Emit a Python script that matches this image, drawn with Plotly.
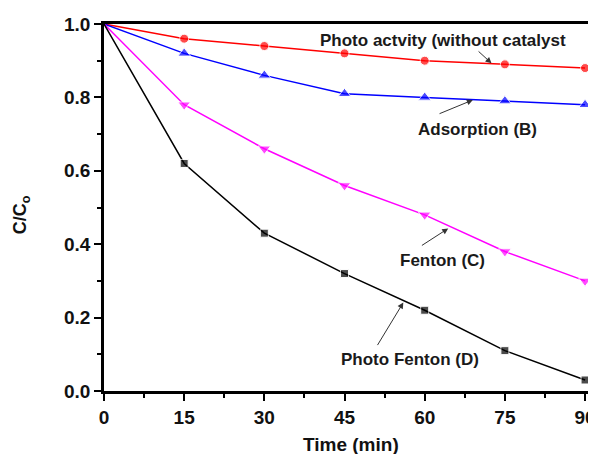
import plotly.graph_objects as go

time_min = [0, 15, 30, 45, 60, 75, 90]
photo_activity = [1.0, 0.96, 0.94, 0.92, 0.90, 0.89, 0.88]
adsorption = [1.0, 0.92, 0.86, 0.81, 0.80, 0.79, 0.78]
fenton = [1.0, 0.78, 0.66, 0.56, 0.48, 0.38, 0.30]
photo_fenton = [1.0, 0.62, 0.43, 0.32, 0.22, 0.11, 0.03]

x_ticks = [0, 15, 30, 45, 60, 75, 90]
y_ticks = [0.0, 0.2, 0.4, 0.6, 0.8, 1.0]
y_tick_labels = ["0.0", "0.2", "0.4", "0.6", "0.8", "1.0"]

FONT = "Liberation Sans, Arial, sans-serif"

fig = go.Figure()

series = [
    (photo_activity, "#ff0000", "circle", 9),
    (adsorption, "#0000ff", "triangle-up", 11),
    (fenton, "#ff00ff", "triangle-down", 11),
    (photo_fenton, "#000000", "square", 8),
]
for vals, color, sym, size in series:
    sizes = [0] + [size] * (len(vals) - 1)
    fig.add_trace(go.Scatter(
        x=time_min, y=vals, mode="lines+markers",
        line=dict(color=color, width=1.5),
        marker=dict(symbol=sym, size=sizes, color=color),
        cliponaxis=False, showlegend=False,
    ))

labels = [
    # text, text x, text y, arrow tail x, tail y, head x, head y
    ("Photo actvity (without catalyst", 63.4, 0.954, 69.8, 0.929, 72.5, 0.893),
    ("Adsorption (B)", 69.8, 0.713, 62.5, 0.754, 69.0, 0.793),
    ("Fenton (C)", 63.3, 0.356, 59.2, 0.394, 64.4, 0.443),
    ("Photo Fenton (D)", 57.3, 0.086, 51.0, 0.121, 56.0, 0.241),
]
for text, tx, ty, ax, ay, hx, hy in labels:
    fig.add_annotation(x=tx, y=ty, text="<b>%s</b>" % text, showarrow=False,
                       font=dict(family=FONT, size=17, color="#1a1a1a"),
                       xanchor="center", yanchor="middle")
    fig.add_annotation(x=hx, y=hy, ax=ax, ay=ay, axref="x", ayref="y", text="",
                       showarrow=True, arrowhead=2, arrowsize=1.2, arrowwidth=1,
                       arrowcolor="#333333")

fig.add_annotation(xref="paper", yref="paper", x=0.506, y=-0.146,
                   text="<b>Time (min)</b>", showarrow=False,
                   font=dict(family=FONT, size=19, color="#111111"),
                   xanchor="center", yanchor="middle")
fig.add_annotation(xref="paper", yref="paper", x=-0.17, y=0.479,
                   text="<b>C/C<sub>o</sub></b>", showarrow=False, textangle=-90,
                   font=dict(family=FONT, size=18, color="#111111"),
                   xanchor="center", yanchor="middle")

fig.update_xaxes(
    range=[0, 91.3], tickmode="array", tickvals=x_ticks,
    ticktext=["<b>%d</b>" % v for v in x_ticks],
    ticklabeloverflow="allow",
    ticks="outside", ticklen=7, tickwidth=2, tickcolor="black",
    minor=dict(dtick=7.5, tick0=0, ticks="outside", ticklen=4, tickwidth=2, tickcolor="black"),
    showline=True, linecolor="black", linewidth=2.5, mirror=True,
    showgrid=False, zeroline=False,
    tickfont=dict(family=FONT, size=19, color="#111111"),
)
fig.update_yaxes(
    range=[0, 1.0], tickmode="array", tickvals=y_ticks,
    ticktext=["<b>%s</b>" % s for s in y_tick_labels],
    ticks="outside", ticklen=7, tickwidth=2, tickcolor="black",
    minor=dict(dtick=0.1, tick0=0, ticks="outside", ticklen=4, tickwidth=2, tickcolor="black"),
    showline=True, linecolor="black", linewidth=2.5, mirror=False,
    showgrid=False, zeroline=False,
    tickfont=dict(family=FONT, size=19, color="#111111"),
)

fig.update_layout(
    width=588, height=446,
    margin=dict(l=96, r=0, t=16, b=63),
    plot_bgcolor="white", paper_bgcolor="white",
)

fig.write_html("out.html")
